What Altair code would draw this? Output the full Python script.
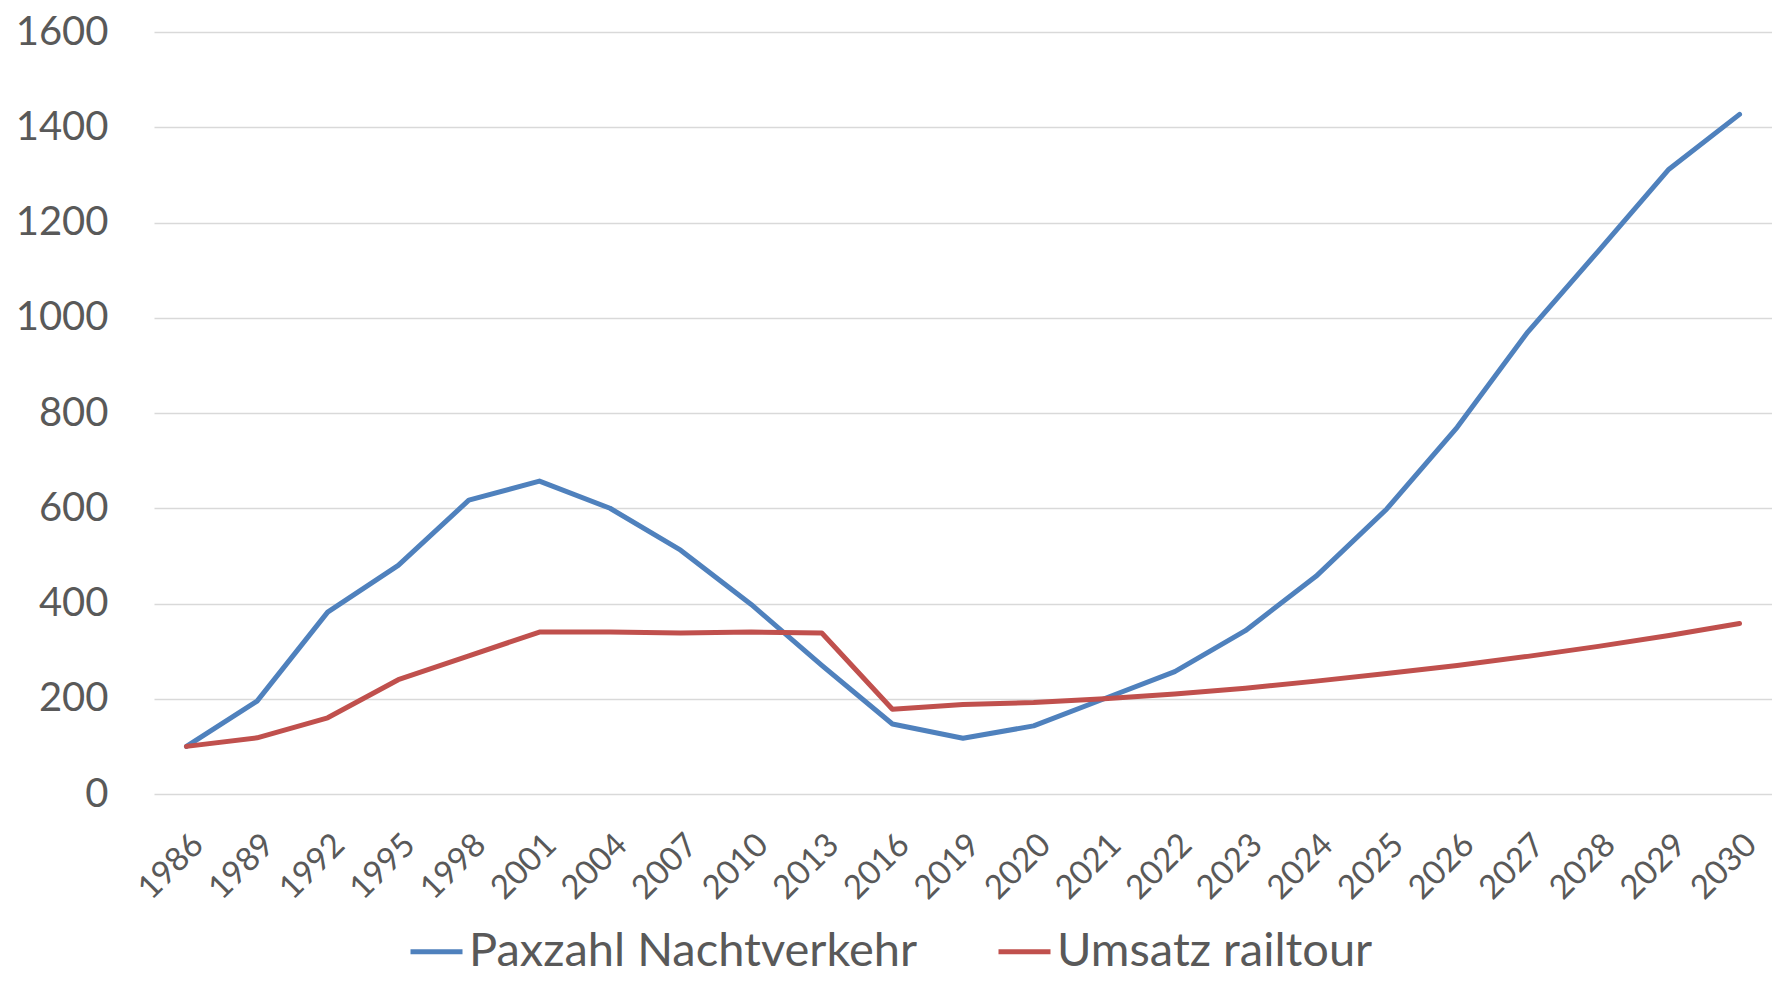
import altair as alt
import pandas as pd

years = ["1986", "1989", "1992", "1995", "1998", "2001", "2004", "2007", "2010", "2013",
         "2016", "2019", "2020", "2021", "2022", "2023", "2024", "2025", "2026", "2027",
         "2028", "2029", "2030"]
pax = [100, 195, 382, 480, 617, 657, 600, 512, 398, 270,
       147, 117, 143, 200, 257, 343, 457, 598, 770, 970,
       1140, 1312, 1427]
umsatz = [100, 118, 160, 240, 290, 340, 340, 338, 340, 338,
          178, 188, 192, 200, 210, 222, 237, 253, 270, 289,
          310, 333, 358]
series_names = ["Paxzahl Nachtverkehr", "Umsatz railtour"]
colors = ["#4F81BD", "#C0504D"]

rows = []
for i, y in enumerate(years):
    rows.append({"Jahr": y, "Serie": series_names[0], "Wert": pax[i]})
    rows.append({"Jahr": y, "Serie": series_names[1], "Wert": umsatz[i]})
df = pd.DataFrame(rows)

FONT = "Lato"
TXT = "#595959"

chart = alt.Chart(df).mark_line(strokeWidth=5, strokeJoin="round", strokeCap="round").encode(
    x=alt.X("Jahr:N", sort=years,
            scale=alt.Scale(type="point", padding=0.46, domain=years),
            axis=alt.Axis(title=None, labelAngle=-45, labelFontSize=33, labelColor=TXT,
                          labelFont=FONT, ticks=False, domain=False, grid=False,
                          labelPadding=34)),
    y=alt.Y("Wert:Q", scale=alt.Scale(domain=[0, 1600], nice=False),
            axis=alt.Axis(title=None, values=list(range(0, 1601, 200)), format="d",
                          labelFontSize=40, labelColor=TXT, labelFont=FONT, ticks=False,
                          domain=False, gridColor="#D9D9D9", gridWidth=1.5,
                          labelPadding=46)),
    color=alt.Color("Serie:N", scale=alt.Scale(domain=series_names, range=colors),
                    legend=alt.Legend(title=None, orient="none", legendX=254, legendY=891,
                                      direction="horizontal", symbolType="stroke",
                                      symbolSize=2704, symbolStrokeWidth=5,
                                      labelFontSize=47, labelFont=FONT, labelColor=TXT,
                                      labelLimit=1000, columnPadding=70, labelOffset=4)),
).properties(
    width=1618, height=762,
    padding={"left": 146, "top": 24, "right": 0, "bottom": 181},
    autosize=alt.AutoSizeParams(type="none"),
).configure_view(stroke=None)

chart.save("out.html", embed_options={"renderer": "svg", "actions": False})
